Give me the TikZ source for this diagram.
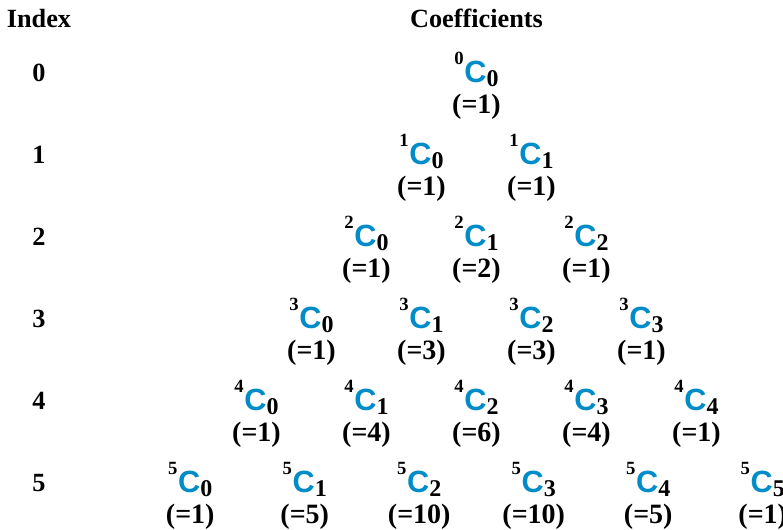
\documentclass[tikz,border=0pt]{standalone}
\usepackage{fontspec}
\setmainfont{Liberation Serif}
\newfontfamily\csans{Liberation Sans}
\usetikzlibrary{positioning}
\definecolor{cblue}{RGB}{0,140,200}
\newcommand{\nck}[2]{{\fontsize{14}{14}\selectfont\raisebox{13.5pt}{#1}\kern0.5pt}{\color{cblue}\csans\bfseries\fontsize{23}{23}\selectfont C}{\fontsize{18}{18}\selectfont\raisebox{-3pt}{#2}}}

\begin{document}
\begin{tikzpicture}[x=0.75pt,y=-0.75pt,
  coef/.style={inner sep=0pt, anchor=base, font=\bfseries},
  val/.style={inner sep=0pt, anchor=base, font=\bfseries\fontsize{21}{21}\selectfont},
  head/.style={inner sep=0pt, anchor=base, font=\bfseries\fontsize{19.7}{20}\selectfont}]
\useasboundingbox (0,0) rectangle (783,530);
\node[head] (index) at (39,28) {Index};
\node[head] (coefs) at (476.5,28) {Coefficients};
\foreach \n in {0,...,5} {
  \node[head] (idx-\n) at (39,81.5+82*\n) {\n};
  \pgfmathsetmacro\stp{ifthenelse(\n==5,114.5,110)}
  \foreach \k in {0,...,\n} {
    \pgfmathtruncatemacro\val{round(factorial(\n)/(factorial(\k)*factorial(\n-\k)))}
    \node[coef] (c-\n-\k) at (476.5+\stp*\k-0.5*\stp*\n, 83+82*\n) {\nck{\n}{\k}};
    \node[val, yshift=-23pt] (v-\n-\k) at (c-\n-\k.base) {(=\val)};
  }
}
\end{tikzpicture}
\end{document}
